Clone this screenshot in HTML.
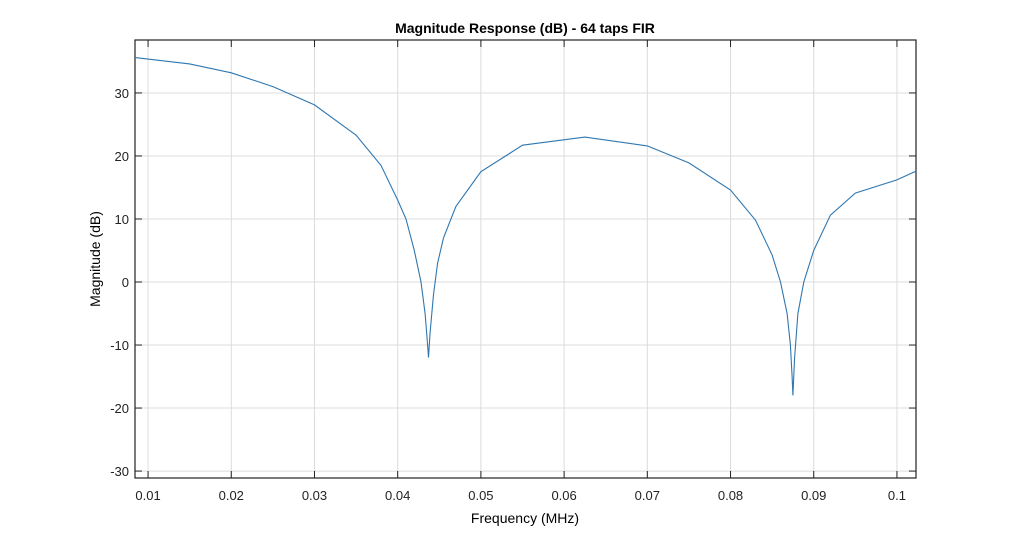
<!DOCTYPE html>
<html><head><meta charset="utf-8"><style>
body{margin:0;background:#fff;font-family:"Liberation Sans",sans-serif}
</style></head><body>
<svg id="chart" width="1035" height="538" xmlns="http://www.w3.org/2000/svg" font-family="Liberation Sans, sans-serif">
<rect width="1035" height="538" fill="#fff"/>
<g id="grid"></g>
<g id="axes"></g>
<path id="line" fill="none" stroke="#2f77b0" stroke-width="1.1"/>
<text x="525" y="33" text-anchor="middle" font-size="14" font-weight="bold">Magnitude Response (dB) - 64 taps FIR</text>
<text x="525" y="523" text-anchor="middle" font-size="14">Frequency (MHz)</text>
<text transform="translate(100,259) rotate(-90)" text-anchor="middle" font-size="14">Magnitude (dB)</text>
</svg>
<script>
const freqs=[0.00843,0.015,0.02,0.025,0.03,0.035,0.038,0.04,0.041,0.042,0.0428,0.0433,0.0436,0.0437,0.0439,0.0443,0.0448,0.0455,0.047,0.05,0.055,0.0625,0.07,0.075,0.08,0.083,0.085,0.086,0.0868,0.0872,0.0874,0.0875,0.0877,0.0881,0.0888,0.09,0.092,0.095,0.1,0.1023];
const mags=[35.6,34.6,33.2,31.0,28.1,23.3,18.5,13,10,5,0,-5,-10,-12,-8,-2,3,7,12,17.5,21.7,23,21.6,18.9,14.6,9.8,4.3,0,-5,-10,-15,-18,-12,-5,0,5,10.6,14.1,16.2,17.6];
const xTicks=[0.01,0.02,0.03,0.04,0.05,0.06,0.07,0.08,0.09,0.1];
const xLabels=["0.01","0.02","0.03","0.04","0.05","0.06","0.07","0.08","0.09","0.1"];
const yTicks=[-30,-20,-10,0,10,20,30];
const L=135,R=916,T=40,B=478,xmin=0.00843,xmax=0.10229,ymin=-31.1,ymax=38.4;
const sx=v=>L+(v-xmin)/(xmax-xmin)*(R-L);
const sy=v=>B-(v-ymin)/(ymax-ymin)*(B-T);
const NS="http://www.w3.org/2000/svg";
const grid=document.getElementById('grid'),axes=document.getElementById('axes');
function mk(tag,attrs,parent){const e=document.createElementNS(NS,tag);for(const k in attrs)e.setAttribute(k,attrs[k]);parent.appendChild(e);return e;}
xTicks.forEach((t,i)=>{const x=sx(t);
const g=mk('line',{x1:x,x2:x,y1:T,y2:B,stroke:'#dcdcdc','stroke-width':1},grid);


mk('line',{x1:x,x2:x,y1:B,y2:B-7,stroke:'#222'},axes);
mk('line',{x1:x,x2:x,y1:T,y2:T+7,stroke:'#222'},axes);
const tx=mk('text',{x:x,y:B+22,'text-anchor':'middle','font-size':13,fill:'#222'},axes);
tx.textContent=xLabels[i];


});
yTicks.forEach(t=>{const y=sy(t);
const g=mk('line',{x1:L,x2:R,y1:y,y2:y,stroke:'#dcdcdc','stroke-width':1},grid);


mk('line',{x1:L,x2:L+7,y1:y,y2:y,stroke:'#222'},axes);
mk('line',{x1:R,x2:R-7,y1:y,y2:y,stroke:'#222'},axes);
const tx=mk('text',{x:L-6,y:y+5,'text-anchor':'end','font-size':13,fill:'#222'},axes);
tx.textContent=String(t);


});
const box=mk('rect',{x:L,y:T,width:R-L,height:B-T,fill:'none',stroke:'#222','stroke-width':1.2},axes);


document.getElementById('line').setAttribute('d',freqs.map((f,i)=>(i?'L':'M')+sx(f).toFixed(1)+','+sy(mags[i]).toFixed(1)).join(''));
</script>
</body></html>
